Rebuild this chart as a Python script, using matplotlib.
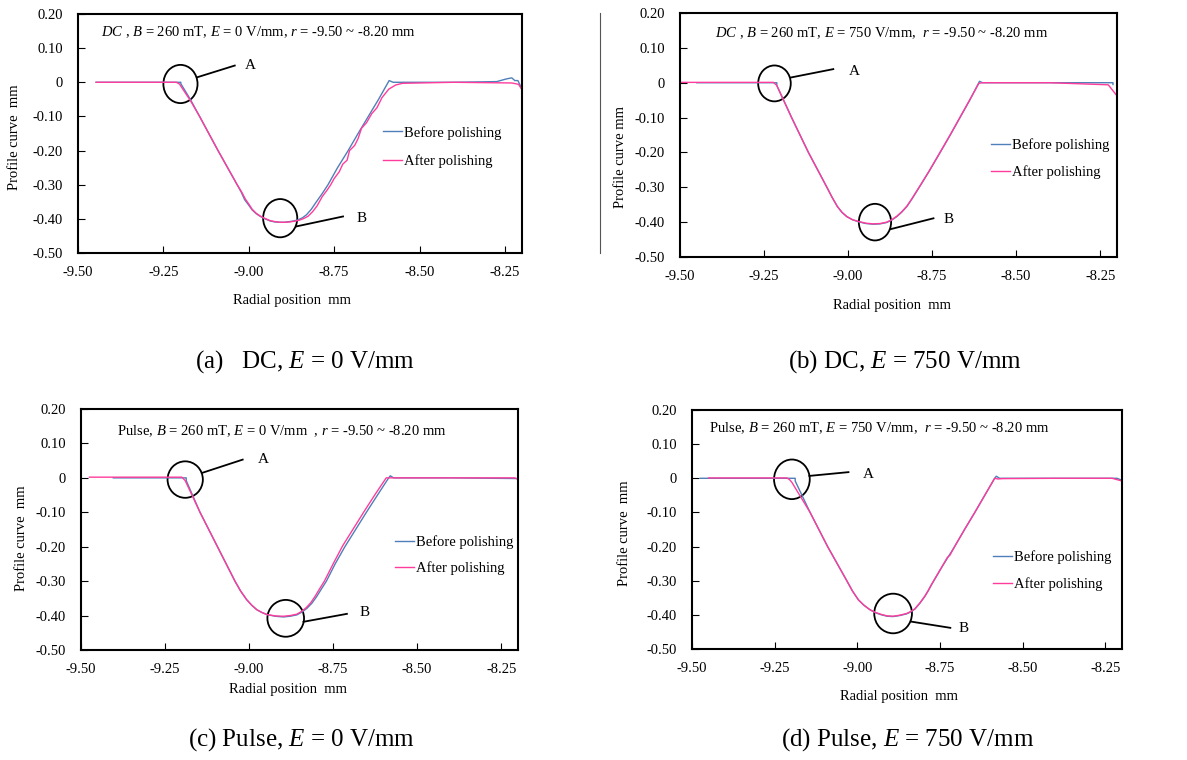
"""
Profile curves before / after polishing, four conditions (DC / Pulse, E = 0 / 750 V/mm).
"""

import matplotlib
matplotlib.use("Agg")
import matplotlib.pyplot as plt
from matplotlib.patches import Ellipse
from matplotlib.lines import Line2D

plt.rcParams["font.family"] = ["Liberation Serif", "DejaVu Serif"]
plt.rcParams["mathtext.fontset"] = "custom"
plt.rcParams["mathtext.rm"] = "Liberation Serif"
plt.rcParams["mathtext.it"] = "Liberation Serif:italic"
plt.rcParams["axes.unicode_minus"] = False

# ---- data (radial position mm, profile mm) ----
a_before_x = [-9.447, -9.199, -9.199, -9.17, -9.144, -9.09, -9.034, -9.022, -9.012, -9.000,
              -8.990, -8.978, -8.966, -8.952, -8.938, -8.924, -8.909, -8.895, -8.880, -8.868,
              -8.856, -8.843, -8.831, -8.817, -8.802, -8.785, -8.768, -8.74, -8.709, -8.68,
              -8.65, -8.62, -8.589, -8.577, -8.40, -8.274, -8.245, -8.230, -8.221, -8.212, -8.200]
a_before_y = [0.0, 0.0, -0.004, -0.052, -0.10, -0.20, -0.30, -0.322, -0.344, -0.360,
              -0.374, -0.385, -0.393, -0.400, -0.406, -0.409, -0.410, -0.410, -0.408, -0.406,
              -0.403, -0.397, -0.388, -0.372, -0.350, -0.326, -0.300, -0.250, -0.200, -0.150,
              -0.100, -0.050, 0.005, 0.0, 0.0, 0.002, 0.010, 0.013, 0.005, 0.005, -0.020]
a_after_x = [-9.447, -9.212, -9.203, -9.17, -9.144, -9.09, -9.034, -9.021, -9.010, -8.999,
             -8.990, -8.978, -8.966, -8.952, -8.938, -8.924, -8.909, -8.895, -8.880, -8.866,
             -8.852, -8.839, -8.826, -8.813, -8.80, -8.785, -8.77, -8.76, -8.75, -8.735,
             -8.725, -8.712, -8.705, -8.69, -8.68, -8.67, -8.655, -8.64, -8.625, -8.61,
             -8.59, -8.57, -8.55, -8.40, -8.23, -8.21, -8.20]
a_after_y = [0.0, 0.0, -0.005, -0.055, -0.10, -0.20, -0.30, -0.321, -0.342, -0.358,
             -0.372, -0.384, -0.392, -0.399, -0.405, -0.408, -0.410, -0.410, -0.409, -0.407,
             -0.404, -0.399, -0.392, -0.379, -0.362, -0.335, -0.315, -0.300, -0.282, -0.262,
             -0.240, -0.228, -0.200, -0.185, -0.165, -0.135, -0.118, -0.092, -0.075, -0.045,
             -0.020, -0.008, -0.003, 0.0, -0.002, -0.006, -0.022]

b_before_x = [-9.45, -9.212, -9.212, -9.168, -9.118, -9.063, -9.048, -9.032, -9.018, -9.004,
              -8.987, -8.969, -8.947, -8.925, -8.905, -8.885, -8.870, -8.855, -8.840, -8.825,
              -8.811, -8.796, -8.785, -8.76, -8.726, -8.696, -8.667, -8.638, -8.609,
              -8.600, -8.40, -8.225, -8.212, -8.212]
b_before_y = [0.0, 0.0, -0.008, -0.10, -0.20, -0.30, -0.328, -0.355, -0.372, -0.384,
              -0.393, -0.399, -0.404, -0.406, -0.405, -0.401, -0.394, -0.384, -0.371, -0.355,
              -0.335, -0.312, -0.295, -0.256, -0.200, -0.150, -0.100, -0.050, 0.004,
              0.0, 0.0, 0.0, 0.0, -0.005]
b_after_x = [-9.495, -9.222, -9.212, -9.168, -9.118, -9.063, -9.048, -9.032, -9.018, -9.004,
             -8.987, -8.969, -8.947, -8.925, -8.905, -8.885, -8.870, -8.855, -8.840, -8.825,
             -8.811, -8.796, -8.785, -8.76, -8.726, -8.696, -8.667, -8.638, -8.611,
             -8.600, -8.40, -8.226, -8.198]
b_after_y = [0.001, 0.001, -0.008, -0.10, -0.20, -0.30, -0.328, -0.355, -0.372, -0.384,
             -0.393, -0.398, -0.403, -0.405, -0.404, -0.400, -0.393, -0.383, -0.370, -0.354,
             -0.334, -0.311, -0.294, -0.255, -0.199, -0.149, -0.099, -0.049, -0.002,
             0.0, 0.0, -0.006, -0.040]

c_before_x = [-9.404, -9.187, -9.187, -9.146, -9.094, -9.042, -9.025, -9.007, -8.992, -8.977,
              -8.962, -8.947, -8.922, -8.898, -8.878, -8.858, -8.843, -8.828, -8.813, -8.799,
              -8.785, -8.770, -8.744, -8.715, -8.683, -8.651, -8.618, -8.586,
              -8.580, -8.570, -8.40, -8.203, -8.200]
c_before_y = [0.0, 0.0, -0.008, -0.10, -0.20, -0.30, -0.329, -0.354, -0.370, -0.383,
              -0.391, -0.397, -0.402, -0.404, -0.402, -0.398, -0.390, -0.379, -0.364, -0.345,
              -0.323, -0.300, -0.250, -0.200, -0.150, -0.100, -0.050, -0.002,
              0.006, 0.0, 0.0, -0.002, -0.004]
c_after_x = [-9.475, -9.200, -9.190, -9.146, -9.094, -9.042, -9.025, -9.007, -8.992, -8.977,
             -8.962, -8.947, -8.922, -8.898, -8.878, -8.858, -8.844, -8.830, -8.816, -8.803,
             -8.790, -8.776, -8.750, -8.722, -8.690, -8.658, -8.625, -8.592,
             -8.585, -8.40, -8.21, -8.200]
c_after_y = [0.002, 0.002, -0.008, -0.10, -0.20, -0.30, -0.329, -0.354, -0.370, -0.383,
             -0.391, -0.397, -0.401, -0.402, -0.400, -0.396, -0.388, -0.377, -0.362, -0.343,
             -0.322, -0.300, -0.250, -0.198, -0.148, -0.098, -0.048, 0.0,
             0.0, 0.0, 0.0, -0.004]

d_before_x = [-9.475, -9.188, -9.188, -9.143, -9.090, -9.032, -9.015, -8.997, -8.980, -8.962,
              -8.945, -8.927, -8.910, -8.892, -8.872, -8.851, -8.838, -8.826, -8.811, -8.796,
              -8.786, -8.776, -8.742, -8.706, -8.676, -8.645, -8.615, -8.585,
              -8.580, -8.570, -8.40, -8.215, -8.200]
d_before_y = [0.0, 0.0, -0.008, -0.10, -0.20, -0.30, -0.330, -0.356, -0.372, -0.385,
              -0.394, -0.400, -0.404, -0.405, -0.402, -0.397, -0.391, -0.383, -0.366, -0.346,
              -0.330, -0.312, -0.256, -0.200, -0.150, -0.100, -0.050, 0.0,
              0.006, 0.0, 0.0, 0.0, -0.006]
d_after_x = [-9.450, -9.213, -9.205, -9.198, -9.143, -9.090, -9.032, -9.015, -8.997, -8.980,
             -8.962, -8.945, -8.927, -8.910, -8.892, -8.872, -8.851, -8.838, -8.826, -8.811,
             -8.796, -8.786, -8.776, -8.742, -8.728, -8.720, -8.706, -8.676, -8.645, -8.615,
             -8.585, -8.575, -8.560, -8.40, -8.23, -8.200]
d_after_y = [0.001, 0.001, -0.004, -0.012, -0.10, -0.20, -0.30, -0.330, -0.356, -0.372,
             -0.385, -0.393, -0.399, -0.403, -0.404, -0.401, -0.396, -0.390, -0.382, -0.365,
             -0.345, -0.329, -0.311, -0.255, -0.232, -0.225, -0.200, -0.150, -0.100, -0.050,
             0.0, -0.002, -0.001, 0.0, 0.0, -0.008]

x_ticks = [-9.50, -9.25, -9.00, -8.75, -8.50, -8.25]
x_tick_labels = ["-9.50", "-9.25", "-9.00", "-8.75", "-8.50", "-8.25"]
y_ticks = [0.20, 0.10, 0.0, -0.10, -0.20, -0.30, -0.40, -0.50]
y_tick_labels = ["0.20", "0.10", "0", "-0.10", "-0.20", "-0.30", "-0.40", "-0.50"]

conditions = [
    r"$DC$ , $B$ = 260 mT, $E$ = 0 V/mm, $r$ = -9.50 ~ -8.20 mm",
    r"$DC$ , $B$ = 260 mT, $E$ = 750 V/mm,  $r$ = -9.50 ~ -8.20 mm",
    r"Pulse, $B$ = 260 mT, $E$ = 0 V/mm  , $r$ = -9.50 ~ -8.20 mm",
    r"Pulse, $B$ = 260 mT, $E$ = 750 V/mm,  $r$ = -9.50 ~ -8.20 mm",
]
captions = [
    r"(a)   DC, $E$ = 0 V/mm",
    r"(b) DC, $E$ = 750 V/mm",
    r"(c) Pulse, $E$ = 0 V/mm",
    r"(d) Pulse, $E$ = 750 V/mm",
]
y_labels = ["Profile curve  mm", "Profile curve mm", "Profile curve  mm", "Profile curve  mm"]

series = [
    (a_before_x, a_before_y, a_after_x, a_after_y),
    (b_before_x, b_before_y, b_after_x, b_after_y),
    (c_before_x, c_before_y, c_after_x, c_after_y),
    (d_before_x, d_before_y, d_after_x, d_after_y),
]

# ---- layout (pixel-measured) ----
W, H = 1187, 760
boxes = [(78, 14, 444, 239), (680, 13, 437, 244), (81, 409, 437, 241), (692, 410, 430, 239)]
cond_pos = [(0.052, 0.922), (0.080, 0.917), (0.083, 0.910), (0.040, 0.923)]
legend_pos = [(0.687, 0.4435, 1.02), (0.711, 0.404, 0.88), (0.7185, 0.393, 0.85), (0.700, 0.328, 0.87)]
xlabel_pos = [(0.482, -0.197), (0.485, -0.197), (0.474, -0.162), (0.481, -0.200)]
ylabel_pos = [(-0.144, 0.485), (-0.136, 0.410), (-0.137, 0.465), (-0.158, 0.485)]
caption_pos = [(305, 362), (905, 362), (301, 740), (908, 740)]
# circle A, circle B: (cx, cy, w, h); leader lines ((x0, y0), (x1, y1)); label positions
circles = [
    ((-9.200, -0.005, 0.100, 0.112), (-8.908, -0.398, 0.100, 0.112)),
    ((-9.219, -0.002, 0.097, 0.103), (-8.920, -0.400, 0.096, 0.105)),
    ((-9.190, -0.005, 0.105, 0.106), (-8.891, -0.408, 0.109, 0.107)),
    ((-9.198, -0.003, 0.108, 0.116), (-8.892, -0.396, 0.114, 0.116)),
]
leaders = [
    (((-9.150, 0.015), (-9.041, 0.049)), ((-8.860, -0.422), (-8.724, -0.393))),
    (((-9.170, 0.015), (-9.044, 0.039)), ((-8.873, -0.420), (-8.746, -0.389))),
    (((-9.138, 0.015), (-9.019, 0.053)), ((-8.838, -0.418), (-8.709, -0.395))),
    (((-9.145, 0.007), (-9.027, 0.018)), ((-8.836, -0.420), (-8.719, -0.438))),
]
label_xy = [
    ((-9.012, 0.049), (-8.685, -0.400)),
    ((-8.999, 0.031), (-8.716, -0.393)),
    ((-8.974, 0.053), (-8.672, -0.392)),
    ((-8.984, 0.010), (-8.694, -0.440)),
]

BLUE = "#4f7fb8"
PINK = "#ff3c9c"
FS = 10.5

fig = plt.figure(figsize=(W / 100, H / 100), dpi=100)

for i, (bx, by, bw, bh) in enumerate(boxes):
    ax = fig.add_axes([bx / W, 1 - (by + bh) / H, bw / W, bh / H])
    xb, yb, xa, ya = series[i]
    ax.plot(xb, yb, color=BLUE, lw=1.0, label="Before polishing")
    ax.plot(xa, ya, color=PINK, lw=1.0, label="After polishing")

    ax.set_xlim(-9.5, -8.2)
    ax.set_ylim(-0.5, 0.2)
    ax.set_xticks(x_ticks)
    ax.set_xticklabels(x_tick_labels)
    ax.set_yticks(y_ticks)
    ax.set_yticklabels(y_tick_labels)
    ax.tick_params(axis="x", direction="in", length=5, width=0.8, pad=9.5, labelsize=FS)
    ax.tick_params(axis="y", direction="in", length=5, width=0.8, pad=11, labelsize=FS)
    for sp in ax.spines.values():
        sp.set_linewidth(1.5)

    ax.text(cond_pos[i][0], cond_pos[i][1], conditions[i], transform=ax.transAxes,
            ha="left", va="center", fontsize=FS)
    ax.text(xlabel_pos[i][0], xlabel_pos[i][1], "Radial position  mm", transform=ax.transAxes,
            ha="center", va="center", fontsize=FS)
    ax.text(ylabel_pos[i][0], ylabel_pos[i][1], y_labels[i], transform=ax.transAxes,
            ha="center", va="center", rotation=90, fontsize=FS)

    lx, ly, lsp = legend_pos[i]
    ax.legend(loc="center left", bbox_to_anchor=(lx, ly), frameon=False, fontsize=FS,
              borderpad=0, borderaxespad=0, handlelength=1.3, handletextpad=0.15,
              labelspacing=lsp)

    for (cx, cy, cw, ch) in circles[i]:
        ax.add_patch(Ellipse((cx, cy), cw, ch, fill=False, ec="black", lw=1.3))
    for (p0, p1) in leaders[i]:
        ax.plot([p0[0], p1[0]], [p0[1], p1[1]], color="black", lw=1.3)
    for txt, (tx, ty) in zip(["A", "B"], label_xy[i]):
        ax.text(tx, ty, txt, ha="left", va="center", fontsize=FS + 0.5)

    cxp, cyp = caption_pos[i]
    fig.text(cxp / W, 1 - cyp / H, captions[i], ha="center", va="center", fontsize=18)

# thin border left over from the source scan between the two top panels
fig.add_artist(Line2D([600 / W, 600 / W], [1 - 13 / H, 1 - 253 / H], color="#555555", lw=0.8))

fig.savefig("out.png", dpi=100)
